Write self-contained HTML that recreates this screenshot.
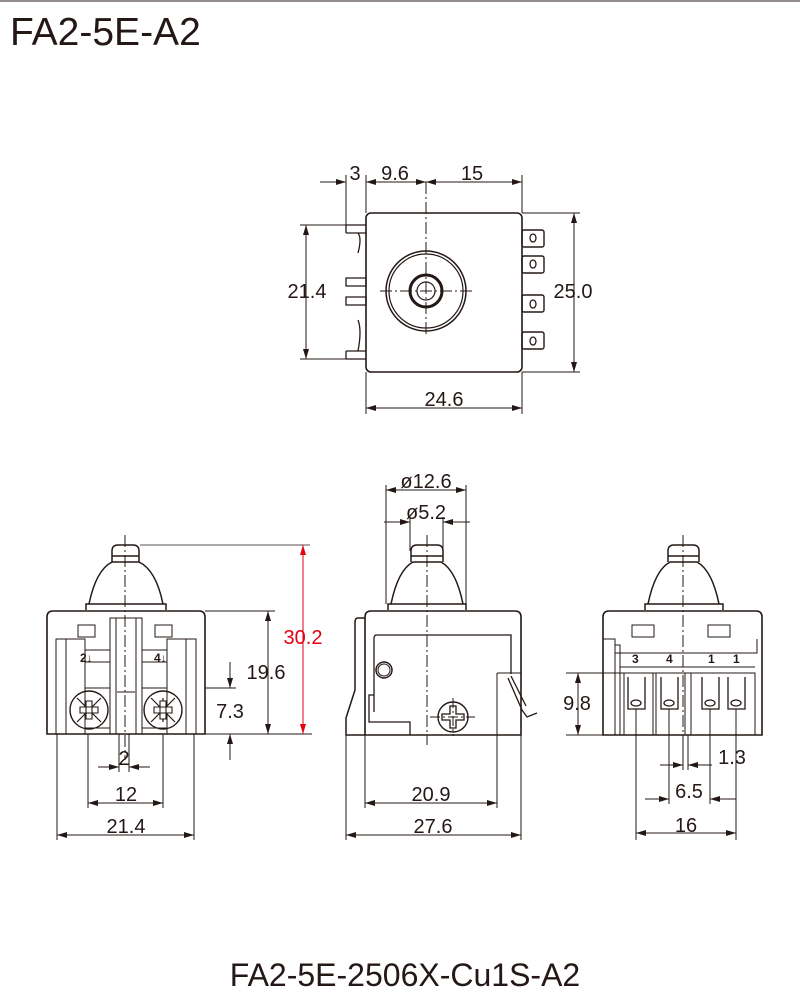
<!DOCTYPE html>
<html><head><meta charset="utf-8"><style>
body{margin:0;background:#fff}
svg{display:block}
text{font-family:"Liberation Sans",sans-serif;fill:#231815}
</style></head><body>
<svg width="800" height="997" viewBox="0 0 800 997" xmlns="http://www.w3.org/2000/svg">
<defs>
<marker id="a" viewBox="0 0 10 6" refX="10" refY="3" markerWidth="10" markerHeight="6" orient="auto-start-reverse"><path d="M0,0 L10,3 L0,6z" fill="#231815"/></marker>
<marker id="r" viewBox="0 0 10 6" refX="10" refY="3" markerWidth="10" markerHeight="6" orient="auto-start-reverse"><path d="M0,0 L10,3 L0,6z" fill="#e60012"/></marker>
</defs>
<line x1="0" y1="1" x2="800" y2="1" stroke="#231815" stroke-width="1"/>
<text x="10" y="45" font-size="39">FA2-5E-A2</text>
<text x="405" y="986" font-size="32" text-anchor="middle">FA2-5E-2506X-Cu1S-A2</text>

<g stroke="#231815" fill="none" stroke-width="1">
<!-- TOP VIEW -->
<rect x="366" y="213" width="156" height="159" rx="5" stroke-width="1.6"/>
<path d="M346,225 h20 M346,233 h20 M346,225 v8 M346,359 h20 M346,351 h20 M346,351 v8" stroke-width="1.3"/>
<path d="M346,278 h20 v8 h-20z M346,297 h20 v8 h-20z M358,233 q4,5 0,20 M358,320 q4,10 0,31" stroke-width="1.3"/>
<g stroke-width="1.4">
<rect x="522" y="230" width="22" height="17" rx="2"/><rect x="522" y="256" width="22" height="17" rx="2"/>
<rect x="522" y="295" width="22" height="17" rx="2"/><rect x="522" y="332" width="22" height="17" rx="2"/>
</g>
<g stroke-width="1.3"><ellipse cx="533" cy="238" rx="3" ry="4"/><ellipse cx="533" cy="264" rx="3" ry="4"/><ellipse cx="533" cy="304" rx="3" ry="4"/><ellipse cx="533" cy="341" rx="3" ry="4"/></g>
<circle cx="426" cy="291" r="40" stroke-width="1.5"/><circle cx="426" cy="291" r="37" stroke-width="1.2"/>
<circle cx="426" cy="291" r="16" stroke-width="3"/><circle cx="426" cy="291" r="9" stroke-width="1.2"/>
<path d="M380,291 h92 M426,182 v155" stroke-dasharray="12,3,2,3"/>
<path d="M346,175 v50 M366,175 v38 M522,175 v38"/>
<line x1="320" y1="182" x2="346" y2="182" marker-end="url(#a)"/>
<line x1="366" y1="182" x2="426" y2="182" marker-start="url(#a)" marker-end="url(#a)"/>
<line x1="426" y1="182" x2="522" y2="182" marker-start="url(#a)" marker-end="url(#a)"/>
<path d="M300,225 h46 M300,359 h46"/>
<line x1="306" y1="225" x2="306" y2="359" marker-start="url(#a)" marker-end="url(#a)"/>
<path d="M522,213 h58 M522,372 h58"/>
<line x1="574" y1="213" x2="574" y2="372" marker-start="url(#a)" marker-end="url(#a)"/>
<path d="M366,372 v42 M522,372 v42"/>
<line x1="366" y1="408" x2="522" y2="408" marker-start="url(#a)" marker-end="url(#a)"/>

<!-- LEFT VIEW -->
<path d="M47,734 V617 q0,-6 6,-6 H199 q6,0 6,6 V734 Z" stroke-width="1.6"/>
<path d="M56,734 V639 H66 V734 M66,639 H85 V734 M196,734 V639 H186 V734 M186,639 H167 V734"/>
<path d="M110,734 V618 H142 V734 M116,618 V734 M136,618 V734 M117,692 h18"/>
<rect x="78" y="625" width="17" height="12"/><rect x="155" y="625" width="17" height="12"/>
<path d="M85,650 H110 M142,650 H167 M85,662 H110 M142,662 H167 M85,688 H110 M142,688 H167 M85,728 H110 M142,728 H167"/>
<circle cx="89" cy="710" r="19" stroke-width="1.4"/><circle cx="163" cy="710" r="19" stroke-width="1.4"/>
<path d="M77,698 L101,722 M77,722 L101,698 M163,698 L163,722 M151,698 L175,722 M151,722 L175,698" stroke-width="1.2"/>
<path d="M80,707 h18 v6 h-18z M86,701 h6 v18 h-6z M154,707 h18 v6 h-18z M160,701 h6 v18 h-6z" fill="#fff" stroke-width="1.1"/>
<path d="M86,610 V604 H166 V610 M89,604 Q96,570 112,562 H139 Q156,570 163,604 M112,562 V551 Q112,545 118,545 H133 Q139,545 139,551 V562 M112,556 H139" stroke-width="1.5"/>
<path d="M125,535 V760" stroke-dasharray="12,3,2,3"/>
<path d="M140,545 H310" stroke-width="0.8"/>
<path d="M205,611 H275 M205,734 H312 M205,688 H236"/>
<line x1="303" y1="545" x2="303" y2="734" stroke="#e60012" marker-start="url(#r)" marker-end="url(#r)"/>
<line x1="268" y1="611" x2="268" y2="734" marker-start="url(#a)" marker-end="url(#a)"/>
<line x1="230" y1="662" x2="230" y2="688" marker-end="url(#a)"/>
<line x1="230" y1="760" x2="230" y2="734" marker-end="url(#a)"/>
<path d="M57,734 V840 M194,734 V840 M88,734 V808 M163,734 V808 M119,734 V772 M129,734 V772"/>
<line x1="98" y1="767" x2="119" y2="767" marker-end="url(#a)"/>
<line x1="150" y1="767" x2="129" y2="767" marker-end="url(#a)"/>
<line x1="88" y1="803" x2="163" y2="803" marker-start="url(#a)" marker-end="url(#a)"/>
<line x1="57" y1="835" x2="194" y2="835" marker-start="url(#a)" marker-end="url(#a)"/>

<!-- MIDDLE VIEW -->
<path d="M365,735 V617 q0,-6 6,-6 H515 q6,0 6,6 V735 Z" stroke-width="1.6"/>
<path d="M365,618 H358 Q355,618 355,622 V690 L346,718 V735 H365" stroke-width="1.5"/>
<path d="M374,712 V638 q0,-3 3,-3 H511 V674 M374,695 H369 V722 H410 V735" stroke-width="1.3"/>
<path d="M497,673 H521 M497,673 V735"/>
<path d="M508,678 L522,710 L527,717 L537,713 M511,676 L526,706" stroke-width="1.3"/>
<circle cx="384" cy="670" r="8" stroke-width="1.5"/><circle cx="384" cy="670" r="6"/>
<circle cx="453" cy="717" r="15" stroke-width="1.4"/>
<path d="M450,706 h6 v8 h8 v6 h-8 v8 h-6 v-8 h-8 v-6 h8z" stroke-width="1.3"/>
<path d="M430,717 h45 M453,698 v38" stroke-dasharray="10,3,2,3"/>
<path d="M388,610 V604 H466 V610 M391,604 Q398,570 413,562 H441 Q456,570 463,604 M411,562 V551 Q411,545 417,545 H437 Q443,545 443,551 V562 M411,556 H443" stroke-width="1.5"/>
<path d="M427,535 V745" stroke-dasharray="12,3,2,3"/>
<path d="M386,485 V604 M466,485 V604 M410,517 V551 M443,517 V551"/>
<line x1="386" y1="490" x2="466" y2="490" marker-start="url(#a)" marker-end="url(#a)"/>
<line x1="384" y1="522" x2="410" y2="522" marker-end="url(#a)"/>
<line x1="470" y1="522" x2="443" y2="522" marker-end="url(#a)"/>
<path d="M346,735 V840 M521,735 V840 M365,735 V808 M497,735 V808"/>
<line x1="365" y1="803" x2="497" y2="803" marker-start="url(#a)" marker-end="url(#a)"/>
<line x1="346" y1="835" x2="521" y2="835" marker-start="url(#a)" marker-end="url(#a)"/>

<!-- RIGHT VIEW -->
<path d="M603,735 V617 q0,-6 6,-6 H756 q6,0 6,6 V735 Z" stroke-width="1.6"/>
<path d="M603,639 H615 V735 M615,645 H620 V735 M757,639 V653 H615"/>
<rect x="632" y="625" width="22" height="12"/><rect x="708" y="625" width="22" height="12"/>
<path d="M620,673 H755 V735 M620,667 H755"/>
<path d="M624,673 V735 M653,673 V735 M656,673 V735 M685,673 V735 M691,673 V735"/>
<g stroke-width="1.3">
<path d="M628,677 V709 H645 V677 M661,677 V709 H678 V677 M702,677 V709 H719 V677 M728,677 V709 H745 V677"/>
<ellipse cx="636" cy="703" rx="5" ry="3"/><ellipse cx="669" cy="703" rx="5" ry="3"/><ellipse cx="710" cy="703" rx="5" ry="3"/><ellipse cx="736" cy="703" rx="5" ry="3"/>
</g>
<path d="M645,610 V604 H723 V610 M648,604 Q655,570 670,562 H697 Q712,570 719,604 M668,562 V551 Q668,545 674,545 H693 Q699,545 699,551 V562 M668,556 H699" stroke-width="1.5"/>
<path d="M683,535 V745" stroke-dasharray="12,3,2,3"/>
<path d="M566,673 H620 M566,735 H603"/>
<line x1="578" y1="673" x2="578" y2="735" marker-start="url(#a)" marker-end="url(#a)"/>
<path d="M636,709 V840 M669,709 V804 M736,709 V840 M710,709 V804 M683,735 V770 M688,735 V770"/>
<line x1="660" y1="765" x2="683" y2="765" marker-end="url(#a)"/>
<line x1="712" y1="765" x2="688" y2="765" marker-end="url(#a)"/>
<line x1="645" y1="799" x2="669" y2="799" marker-end="url(#a)"/>
<line x1="736" y1="799" x2="710" y2="799" marker-end="url(#a)"/>
<line x1="636" y1="833" x2="736" y2="833" marker-start="url(#a)" marker-end="url(#a)"/>
</g>

<g font-size="20">
<text x="355" y="180" text-anchor="middle">3</text>
<text x="395" y="180" text-anchor="middle">9.6</text>
<text x="472" y="180" text-anchor="middle">15</text>
<text x="307" y="298" text-anchor="middle">21.4</text>
<text x="573" y="298" text-anchor="middle">25.0</text>
<text x="444" y="406" text-anchor="middle">24.6</text>
<text x="303" y="644" text-anchor="middle" style="fill:#e60012">30.2</text>
<text x="266" y="679" text-anchor="middle">19.6</text>
<text x="230" y="718" text-anchor="middle">7.3</text>
<text x="124" y="765" text-anchor="middle">2</text>
<text x="126" y="801" text-anchor="middle">12</text>
<text x="126" y="833" text-anchor="middle">21.4</text>
<text x="426" y="488" text-anchor="middle">ø12.6</text>
<text x="426" y="519" text-anchor="middle">ø5.2</text>
<text x="431" y="801" text-anchor="middle">20.9</text>
<text x="433" y="833" text-anchor="middle">27.6</text>
<text x="577" y="710" text-anchor="middle">9.8</text>
<text x="732" y="764" text-anchor="middle">1.3</text>
<text x="689" y="798" text-anchor="middle">6.5</text>
<text x="686" y="832" text-anchor="middle">16</text>
</g>
<g font-size="12" font-weight="bold">
<text x="80" y="662">2↓</text><text x="154" y="662">4↓</text>
<text x="632" y="663">3</text><text x="666" y="663">4</text><text x="708" y="663">1</text><text x="733" y="663">1</text>
</g>
</svg>
</body></html>
